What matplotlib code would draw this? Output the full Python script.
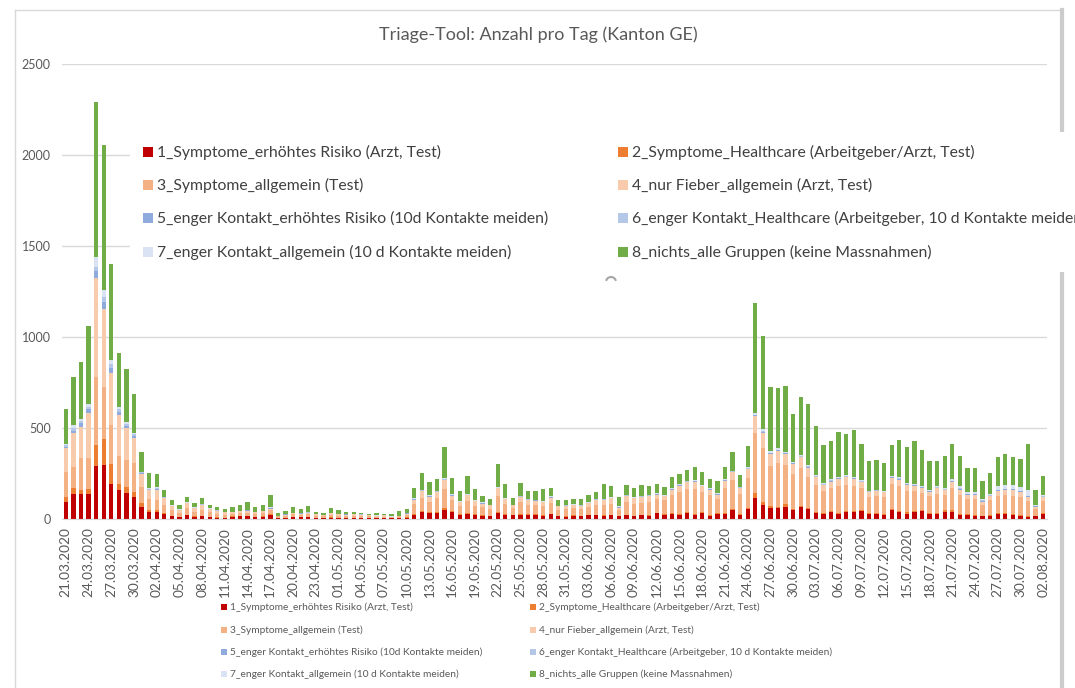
import matplotlib.pyplot as plt
import matplotlib.patches as mpatches
from matplotlib.lines import Line2D
import numpy as np
import pandas as pd

plt.rcParams['font.family'] = ['Lato', 'DejaVu Sans']

W, H = 1075, 688

# Kategorien (Tage mit Daten)
days = (list(pd.date_range('2020-03-21', '2020-04-23'))
        + [pd.Timestamp('2020-04-24'), pd.Timestamp('2020-04-27')]
        + list(pd.date_range('2020-05-01', '2020-08-02')))
labels = [d.strftime('%d.%m.%Y') for d in days]

names = [
    '1_Symptome_erhöhtes Risiko (Arzt, Test)',
    '2_Symptome_Healthcare (Arbeitgeber/Arzt, Test)',
    '3_Symptome_allgemein (Test)',
    '4_nur Fieber_allgemein (Arzt, Test)',
    '5_enger Kontakt_erhöhtes Risiko (10d Kontakte meiden)',
    '6_enger Kontakt_Healthcare (Arbeitgeber, 10 d Kontakte meiden)',
    '7_enger Kontakt_allgemein (10 d Kontakte meiden)',
    '8_nichts_alle Gruppen (keine Massnahmen)',
]
colors = ['#C00000', '#ED7D31', '#F4B183', '#F8CBAD',
          '#8FAADC', '#B4C7E7', '#DAE3F3', '#70AD47']

s1 = [95, 140, 136, 136, 293, 297, 192, 159, 141, 123, 68, 40, 40, 27,
      14, 10, 20, 12, 16, 10, 8, 6,
      12, 14, 15, 11, 13, 24, 5, 6, 10, 9, 10, 5, 4, 8, 5, 5, 4, 4, 3, 4, 3, 3, 6, 8,
      24, 37, 32, 35, 51, 40, 22, 30, 22, 18, 15, 35, 24, 20, 24, 22, 22, 18, 26, 15, 12, 18, 15, 20, 20, 18, 20, 15, 20, 15, 20, 18,
      31, 22, 26, 22, 31, 22, 35, 18, 29, 27, 49, 24, 53, 114, 75, 62, 59, 68, 49, 64, 53, 31, 26, 37, 27, 37, 37, 44, 27, 27, 22, 49,
      37, 29, 37, 44, 29, 26, 40, 40, 24, 24, 18, 15, 18, 29, 29, 22, 18, 11, 16, 29]
s2 = [28, 28, 23, 29, 112, 143, 110, 33, 33, 27, 18, 9, 8, 5,
      3, 2, 3, 2, 3, 2, 2, 1,
      2, 2, 2, 2, 2, 3, 1, 1, 2, 1, 2, 1, 1, 1, 1, 1, 1, 1, 1, 1, 1, 0, 1, 1,
      4, 5, 4, 5, 9, 5, 3, 4, 3, 3, 2, 5, 3, 2, 4, 3, 3, 3, 4, 2, 2, 2, 2, 3, 3, 3, 3, 2, 3, 3, 3, 3,
      4, 4, 5, 5, 6, 5, 6, 4, 4, 5, 8, 5, 10, 27, 20, 8, 8, 12, 8, 9, 8, 6, 5, 7, 6, 7, 7, 7, 5, 5, 5, 8,
      8, 7, 7, 7, 6, 6, 7, 7, 5, 5, 5, 4, 4, 6, 6, 5, 5, 4, 3, 5]
s3 = [134, 120, 174, 172, 373, 287, 215, 154, 150, 156, 92, 59, 56, 45,
      30, 22, 36, 26, 33, 24, 20, 17,
      14, 16, 17, 15, 17, 20, 8, 11, 13, 13, 14, 12, 11, 14, 12, 11, 12, 11, 10, 8, 9, 6, 7, 13,
      54, 75, 59, 74, 105, 57, 45, 65, 49, 43, 39, 87, 56, 36, 63, 54, 52, 48, 60, 35, 40, 39, 38, 44, 56, 57, 62, 31, 71, 66, 67, 72,
      77, 77, 101, 122, 129, 140, 108, 108, 79, 139, 155, 110, 164, 331, 296, 223, 239, 217, 192, 208, 172, 151, 121, 126, 147, 145, 138, 119, 90, 94, 93, 133,
      134, 118, 108, 94, 90, 106, 87, 122, 104, 82, 85, 60, 80, 91, 96, 101, 97, 82, 37, 67]
s4 = [131, 183, 174, 247, 548, 427, 283, 225, 174, 137, 69, 51, 54, 37,
      22, 16, 27, 20, 25, 18, 15, 13,
      8, 10, 12, 8, 10, 10, 4, 6, 7, 7, 8, 7, 6, 9, 7, 7, 8, 8, 7, 5, 7, 3, 3, 8,
      25, 35, 28, 35, 49, 27, 21, 31, 23, 20, 19, 41, 26, 17, 30, 26, 24, 22, 28, 17, 19, 18, 18, 21, 27, 27, 29, 15, 34, 31, 32, 34,
      22, 22, 29, 35, 37, 39, 31, 31, 22, 39, 44, 31, 46, 93, 84, 63, 68, 61, 54, 59, 48, 42, 34, 36, 41, 41, 39, 33, 26, 27, 26, 37,
      38, 33, 31, 27, 25, 30, 24, 35, 29, 23, 24, 17, 22, 26, 27, 29, 27, 23, 10, 19]
s5 = [6, 15, 18, 18, 37, 36, 28, 18, 13, 13, 5, 3, 6, 3,
      2, 1, 2, 2, 2, 1, 1, 1,
      1, 2, 2, 1, 1, 3, 0, 1, 1, 1, 1, 1, 0, 1, 0, 1, 0, 0, 0, 0, 0, 0, 0, 1,
      2, 3, 2, 2, 3, 2, 2, 2, 1, 2, 1, 2, 2, 1, 2, 1, 1, 1, 2, 1, 1, 1, 1, 1, 1, 2, 2, 2, 1, 1, 1, 1,
      2, 2, 2, 2, 2, 2, 2, 2, 2, 2, 2, 2, 3, 4, 4, 4, 3, 3, 3, 3, 4, 3, 2, 3, 3, 3, 3, 3, 2, 2, 2, 3,
      3, 3, 3, 3, 3, 3, 3, 3, 4, 3, 3, 3, 4, 5, 5, 6, 5, 4, 3, 3]
s6 = [10, 13, 13, 15, 24, 28, 24, 13, 13, 9, 4, 3, 6, 2,
      2, 1, 2, 1, 2, 1, 1, 1,
      1, 1, 1, 1, 1, 2, 0, 0, 1, 1, 1, 0, 0, 1, 1, 1, 1, 1, 0, 1, 1, 1, 1, 1,
      2, 2, 2, 2, 3, 2, 1, 2, 2, 2, 1, 2, 1, 1, 2, 2, 1, 2, 2, 1, 1, 1, 1, 1, 2, 2, 2, 2, 2, 2, 2, 2,
      2, 2, 2, 2, 2, 2, 2, 2, 2, 2, 3, 2, 3, 4, 4, 4, 3, 3, 3, 3, 4, 3, 3, 3, 3, 3, 3, 3, 2, 2, 2, 3,
      3, 3, 3, 3, 3, 3, 3, 3, 4, 3, 3, 3, 3, 4, 4, 4, 4, 4, 2, 3]
s7 = [10, 18, 11, 15, 55, 40, 22, 13, 11, 9, 4, 3, 6, 3,
      3, 2, 3, 2, 3, 2, 2, 1,
      1, 1, 2, 1, 2, 2, 1, 1, 1, 1, 1, 1, 2, 1, 1, 1, 1, 1, 2, 1, 1, 1, 1, 1,
      3, 4, 3, 3, 5, 4, 3, 3, 3, 4, 2, 4, 3, 2, 3, 2, 3, 3, 3, 2, 2, 2, 2, 2, 3, 3, 3, 3, 3, 3, 3, 3,
      3, 3, 3, 4, 4, 4, 3, 3, 3, 4, 5, 4, 5, 8, 10, 10, 8, 6, 6, 6, 8, 6, 5, 6, 6, 6, 6, 5, 4, 4, 4, 5,
      6, 5, 5, 5, 5, 6, 6, 10, 10, 8, 10, 8, 8, 22, 22, 22, 20, 30, 8, 8]
s8 = [189, 265, 314, 427, 848, 797, 526, 295, 291, 213, 106, 83, 69, 40,
      28, 21, 28, 21, 30, 19, 15, 13,
      27, 29, 42, 27, 31, 66, 16, 16, 31, 22, 33, 11, 7, 27, 24, 11, 11, 7, 4, 15, 4, 13, 27, 22,
      54, 90, 75, 62, 171, 88, 55, 99, 62, 34, 33, 124, 79, 36, 70, 42, 46, 68, 47, 30, 26, 31, 35, 42, 36, 82, 59, 53, 53, 51, 57, 49,
      51, 46, 65, 53, 56, 72, 69, 54, 66, 68, 104, 64, 117, 606, 512, 349, 330, 363, 262, 316, 337, 269, 212, 209, 247, 227, 254, 198, 164, 161, 154, 166,
      207, 198, 235, 196, 159, 137, 176, 191, 168, 130, 130, 97, 116, 160, 168, 154, 156, 252, 82, 102]

series = [s1, s2, s3, s4, s5, s6, s7, s8]


def fx(px):
    return px / W


def fy(py):
    return 1 - py / H


fig = plt.figure(figsize=(W / 100, H / 100), dpi=100)
fig.patch.set_facecolor('white')

ax = fig.add_axes([fx(62), fy(519), fx(1047) - fx(62), fy(64) - fy(519)])
x = np.arange(len(days))
bottom = np.zeros(len(days))
for vals, name, c in zip(series, names, colors):
    ax.bar(x, vals, 0.57, bottom=bottom, color=c, label=name, zorder=2)
    bottom += np.array(vals)

ax.set_xlim(-0.5, len(days) - 0.5)
ax.set_ylim(0, 2500)
ax.set_yticks(range(0, 2501, 500))
ax.yaxis.grid(True, color='#d9d9d9', lw=1)
ax.set_axisbelow(True)
for s in ['top', 'right', 'left']:
    ax.spines[s].set_visible(False)
ax.spines['bottom'].set_color('#d9d9d9')
ax.set_xticks(x[::3])
ax.set_xticklabels(labels[::3], rotation=90)
ax.tick_params(length=0, colors='#595959', labelsize=9.8)
ax.tick_params(axis='y', pad=8, labelsize=9)
ax.tick_params(axis='x', pad=6)

fig.text(fx(538), fy(35), 'Triage-Tool: Anzahl pro Tag (Kanton GE)',
         ha='center', va='center', fontsize=13, color='#595959')

# Rahmen des Diagrammbereichs
fig.add_artist(Line2D([fx(15), fx(15)], [fy(10), fy(688)], color='#d9d9d9', lw=1, zorder=5))
fig.add_artist(Line2D([fx(15), fx(1062)], [fy(10), fy(10)], color='#d9d9d9', lw=1, zorder=5))
fig.add_artist(Line2D([fx(1062), fx(1062)], [fy(10), fy(688)], color='#cccccc', lw=3, zorder=5))


def draw_legend(x_cols, y_rows, size, fs, tcolor, gap, z):
    for i, (name, c) in enumerate(zip(names, colors)):
        xc = x_cols[i % 2]
        yc = y_rows[i // 2]
        fig.add_artist(mpatches.Rectangle((fx(xc), fy(yc + size / 2)), size / W, size / H,
                                          transform=fig.transFigure, facecolor=c,
                                          edgecolor='none', zorder=z))
        fig.text(fx(xc + size + gap), fy(yc), name, ha='left', va='center',
                 fontsize=fs, color=tcolor, zorder=z)


# eingefügte große Legende
fig.add_artist(mpatches.Rectangle((fx(130), fy(272)), (1080 - 130) / W, (272 - 132) / H,
                                  transform=fig.transFigure, facecolor='white',
                                  edgecolor='none', zorder=10))
fig.add_artist(mpatches.Arc((fx(611), fy(282)), 10 / W, 10 / H, theta1=20, theta2=160,
                            transform=fig.transFigure, color='#a6a6a6', lw=1.5, zorder=11))
draw_legend([143, 618], [152, 185, 218, 252], 10, 11.3, '#404040', 4, 12)

# Legende unten
draw_legend([221, 530], [607, 630, 652, 674], 6, 7.3, '#595959', 3, 12)

fig.savefig('out.png', dpi=100)
